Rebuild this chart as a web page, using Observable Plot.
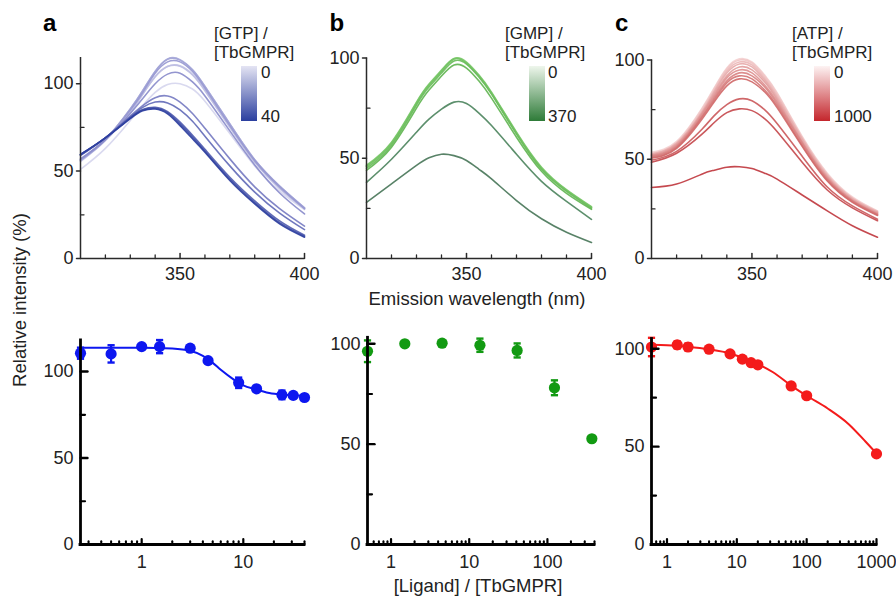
<!DOCTYPE html>
<html><head><meta charset="utf-8">
<script src="https://cdn.jsdelivr.net/npm/d3@7"></script>
<script src="https://cdn.jsdelivr.net/npm/@observablehq/plot@0.6"></script>
<style>
body{margin:0;background:#fff;}
#fig{position:relative;width:896px;height:597px;overflow:hidden;background:#fff;}
#fig svg{position:absolute;left:0;top:0;}
</style></head><body><div id="fig"></div><script>
// ---------- data ----------
const wavelengths = [310,320,330,335,340,345,350,355,360,370,380,390,400];

const gtpRatios = [0,0.25,0.5,1,1.5,3,4.5,9,13.5,24,31,40];
const gtpSpectra = [
  [51,63,79,87.5,95,99.5,100,97,90,71.5,53,38.5,28],
  [55.5,67.5,84,94,104,110,110.3,105.5,96.5,75.5,55.5,40.5,28.5],
  [56,67.5,84,94,104,109.8,110,105,96,75,55,40,28.5],
  [56,68,85.5,96,107,114.2,113.8,108,98.5,77,56.5,41.5,29],
  [56.5,68,85.5,96,107,114,113.5,108,98.5,77,56.5,41.5,29],
  [56.5,68,85,95,106,112.5,112.5,107,97.5,76,56,41,28.5],
  [57,68,83,91.5,100,105.5,106,101,93,73,53.5,37.5,25.5],
  [59,69,81.5,87.5,92,93,89.5,83,74.5,57,41,28.5,18.5],
  [59.5,69,81,86.5,89.5,89,85,78.5,70,53,38,26,16.5],
  [59,69,80.5,85.2,86.5,84,78,70.5,62.5,46.5,33,21.5,13.3],
  [59.5,69,80.5,85,86,83.5,77,69.5,61.5,45.5,32,20.5,12.7],
  [59.5,69,80,84.5,85.5,82.7,76,68.5,60.8,44.6,31.2,19.8,12.2]
];

const gmpRatios = [0,1.5,4.5,13.7,41,123,370];
const gmpSpectra = [
  [46,57.5,77.5,86.5,93.5,99.6,97.5,91,82.5,62.5,45,34,25.5],
  [46.5,58,78,87,94,99.8,98,91.5,83,63,45.5,34.3,25.8],
  [46,57.5,77.5,86.5,93.5,99.5,97.5,91,82.5,62.5,45,34,25.5],
  [45,56.5,76.5,85.5,92.5,98.5,97,90.5,82,62,44.5,33.5,25],
  [44,55.5,75,84,91,96.5,95,88.5,80,60.5,43.5,32.5,24.5],
  [38,49.5,63,69.5,74.5,78,77.3,72.5,66.3,52,38.5,28.5,19.5],
  [28,37.2,46.4,50.2,52,51.3,48.9,44.5,39.7,28.9,19.8,13.1,8]
];

const atpRatios = [0,0.6,1.4,2,4,8,12,16,20,60,100,1000];
const atpSpectra = [
  [53.5,59,75.5,86,96,100.6,99,92.5,83.5,61.5,43,31,24],
  [53,58.5,75,85.5,95.5,100,98.5,92,83,61,42.5,30.5,23.8],
  [52.5,58,74,84.5,94.5,99,97.5,91,82,60.5,42,30.3,23.5],
  [52.5,58,73.5,84,93.5,98,96.5,90,81,60,41.5,30,23.3],
  [52,57.5,73,83,92,96.5,95,89,80,59,41,29.5,23],
  [52,57,72.5,82,91,95,93.5,87.5,79,58.5,40.5,29.3,22.5],
  [51.5,56.5,71.5,81,89.5,93.5,92,86.5,78,58,40,29,22.3],
  [51,56,71,80,88.5,92,90.5,85,77,57,39.5,28.7,22],
  [50.5,55.5,70,79,87,90.5,89,84,76,56.5,39,28.3,21.7],
  [49.5,54,65,72,77.5,80.4,79.5,75,68,51.5,36,26.5,19.8],
  [48.5,53,62.5,68.5,73.5,75.4,74.5,70.5,64,48.5,34.5,25.5,19],
  [35.8,37.5,42.5,44.5,46,46.2,45.3,43,40,32,24,16.5,10.7]
];

const gtpX = [0.25,0.5,1,1.5,3,4.5,9,13.5,24,31,40];
const gtpY = [110.6,110.2,114.4,114.4,113.5,106.3,93.5,90,86.5,86.2,85];
const gtpErr = [3.2,5,1,3.8,1.5,1.2,3,1,2.5,1,0.5];
const gtpFitX = [0.25,0.5,1,2,3,4,5,6,8,10,13,18,25,40];
const gtpFitY = [113.8,113.8,113.8,113.3,112,109,105,101,95.5,92,89.8,87.6,86.6,86];

const gmpX = [0.5,1.5,4.5,13.7,41,123,370];
const gmpY = [96.3,100,100.3,99.3,96.7,78.1,52.7];
const gmpErr = [5.4,0.8,0.8,3.3,3.5,3.7,1];

const atpX = [0.6,1.4,2,4,8,12,16,20,60,100,1000];
const atpY = [100.9,102,100.9,99.8,97.4,94.7,92.9,91.8,81,76,46.3];
const atpErr = [4.7,1.8,1.8,1,1.2,1.2,1,1,1.5,1,0.5];
const atpFitX = [0.6,1,2,4,8,12,20,33,60,100,200,400,700,1000];
const atpFitY = [102,101.8,101,99.7,97.6,95.4,92.2,88,81.2,76,69.5,61.5,52.5,46.5];

const spectraMajor = [350,400];
const spectraMinor = [320,330,340,360,370,380,390];
const yMajor = [0,50,100];
const yMinor = [25,75];

// ---------- helpers ----------
const FONT = "'Liberation Sans', Arial, Helvetica, sans-serif";
const fig = document.getElementById("fig");
const tickShape = {draw(ctx, l) { ctx.moveTo(0, 0); ctx.lineTo(0, -l); }};
const capSymbol = {draw(ctx, size) { const w = Math.sqrt(size / Math.PI); ctx.moveTo(-w, 0); ctx.lineTo(w, 0); }};

function vticks(values, {x, y, len, rotate, stroke, sw}) {
  return Plot.vector(values, {x: x ?? (d => d), y: y ?? (d => d), length: len, rotate, anchor: "start", shape: tickShape, stroke, strokeWidth: sw});
}

function mount(frame, opts, marks) {
  const svg = Plot.plot({
    width: 896, height: 597,
    marginLeft: frame.x0, marginRight: 896 - frame.x1,
    marginTop: frame.yTop, marginBottom: 597 - frame.y0,
    style: {background: "transparent", overflow: "visible", fontFamily: FONT, fontSize: "18px", color: "#222"},
    ...opts,
    marks
  });
  fig.appendChild(svg);
}

function rowsOf(ratios, spectra) {
  return ratios.flatMap((r, i) => wavelengths.map((w, j) => ({wl: w, value: spectra[i][j], ratio: r, idx: i})));
}

function spectraPanel(frame, yMax, ratios, spectra, color) {
  const ax = "#2a2a2a";
  mount(frame, {
    x: {domain: [310, 400]},
    y: {domain: [0, yMax]},
    color
  }, [
    Plot.line(rowsOf(ratios, spectra), {x: "wl", y: "value", z: "idx", stroke: "idx", strokeWidth: 1.6, strokeOpacity: 0.92, curve: "natural"}),
    Plot.ruleY([0], {stroke: ax, strokeWidth: 1.5}),
    Plot.ruleX([310], {stroke: ax, strokeWidth: 1.5}),
    vticks(spectraMinor, {y: () => 0, len: 3.5, rotate: 0, stroke: ax, sw: 1.3}),
    vticks(spectraMajor, {y: () => 0, len: 5, rotate: 0, stroke: ax, sw: 1.5}),
    vticks(yMajor, {x: () => 310, len: 4, rotate: -90, stroke: ax, sw: 1.5}),
    vticks(yMinor, {x: () => 310, len: 3.5, rotate: 90, stroke: ax, sw: 1.3}),
    Plot.axisX(spectraMajor, {tickSize: 0, tickPadding: 9, label: null, tickFormat: d => String(d), fontSize: 18, fill: "#222"}),
    Plot.axisY(yMajor, {tickSize: 0, tickPadding: 7, label: null, tickFormat: d => String(d), fontSize: 18, fill: "#222"})
  ]);
}

function logTicks(lo, hi) {
  const major = [], minor = [];
  for (let e = -1; e <= 3; e++) {
    const p = Math.pow(10, e);
    if (p >= lo && p <= hi) major.push(p);
    for (let k = 2; k <= 9; k++) { const v = +(k * p).toPrecision(3); if (v > lo && v <= hi) minor.push(v); }
  }
  return {major, minor};
}

function dosePanel(frame, xDomain, yMax, xs, ys, errs, col, fitX, fitY) {
  const pts = xs.map((x, i) => ({x, y: ys[i], e: errs[i]}));
  const {major, minor} = logTicks(xDomain[0], xDomain[1]);
  const ax = "#000";
  const marks = [
    Plot.ruleX(pts, {x: "x", y1: d => d.y - d.e, y2: d => d.y + d.e, stroke: col, strokeWidth: 2.2}),
    Plot.dot(pts, {x: "x", y: d => d.y + d.e, symbol: capSymbol, r: 3.6, stroke: col, strokeWidth: 2.4, fill: "none"}),
    Plot.dot(pts, {x: "x", y: d => d.y - d.e, symbol: capSymbol, r: 3.6, stroke: col, strokeWidth: 2.4, fill: "none"})
  ];
  if (fitX) marks.push(Plot.line(fitX.map((x, i) => ({x, y: fitY[i]})), {x: "x", y: "y", stroke: col, strokeWidth: 2, curve: "monotone-x"}));
  marks.push(
    Plot.dot(pts, {x: "x", y: "y", r: 5.6, fill: col, stroke: "none"}),
    Plot.ruleY([0], {stroke: ax, strokeWidth: 2.8, strokeLinecap: "square"}),
    Plot.ruleX([xDomain[0]], {stroke: ax, strokeWidth: 2.8, strokeLinecap: "square"}),
    vticks(minor, {y: () => 0, len: 3.2, rotate: 0, stroke: ax, sw: 2}),
    vticks(major, {y: () => 0, len: 5.5, rotate: 0, stroke: ax, sw: 2.2}),
    vticks(yMajor.slice(1), {x: () => xDomain[0], len: 7, rotate: 90, stroke: ax, sw: 2.4}),
    vticks(yMinor, {x: () => xDomain[0], len: 4.5, rotate: 90, stroke: ax, sw: 2.2}),
    Plot.axisX(major, {tickSize: 0, tickPadding: 11, label: null, tickFormat: d => String(d), fontSize: 18, fill: "#222"}),
    Plot.axisY(yMajor, {tickSize: 0, tickPadding: 7, label: null, tickFormat: d => String(d), fontSize: 18, fill: "#222"})
  );
  mount(frame, {x: {type: "log", domain: xDomain}, y: {domain: [0, yMax]}}, marks);
}

// ---------- panels ----------
spectraPanel({x0: 80, x1: 304, y0: 258, yTop: 57}, 115, gtpRatios, gtpSpectra,
  {type: "linear", domain: [0, 6, 11], range: ["#d6d6ee", "#8a8ccb", "#2c3e9e"], interpolate: "rgb"});
spectraPanel({x0: 366, x1: 591, y0: 258, yTop: 57.5}, 100, gmpRatios, gmpSpectra,
  {type: "ordinal", domain: d3.range(7), range: ["#8ccf7c","#7fca6f","#74c465","#6bbd5c","#62b553","#4e8560","#4a775a"]});
spectraPanel({x0: 651, x1: 877, y0: 258, yTop: 59.5}, 100, atpRatios, atpSpectra,
  {type: "linear", domain: [0, 8, 11], range: ["#f4d2d2", "#d06a6a", "#c03a40"], interpolate: "rgb"});

dosePanel({x0: 80, x1: 304, y0: 544, yTop: 339.9}, [0.25, 40], 118, gtpX, gtpY, gtpErr, "#0d17f0", gtpFitX, gtpFitY);
dosePanel({x0: 367, x1: 594, y0: 544, yTop: 337.3}, [0.5, 400], 103, gmpX, gmpY, gmpErr, "#129a12");
dosePanel({x0: 651, x1: 876, y0: 544, yTop: 338.5}, [0.6, 1000], 105, atpX, atpY, atpErr, "#f41b1b", atpFitX, atpFitY);

// ---------- annotations ----------
const ann = d3.select(fig).append("svg").attr("width", 896).attr("height", 597)
  .attr("font-family", FONT).attr("fill", "#222");
const defs = ann.append("defs");
function grad(id, c0, c1) {
  const g = defs.append("linearGradient").attr("id", id).attr("x1", 0).attr("y1", 0).attr("x2", 0).attr("y2", 1);
  g.append("stop").attr("offset", "0%").attr("stop-color", c0);
  g.append("stop").attr("offset", "100%").attr("stop-color", c1);
}
grad("gA", "#e4e4f3", "#2b3f9f");
grad("gB", "#eef6ec", "#2e7b38");
grad("gC", "#fdf3f3", "#c4262c");

const legends = [
  {x: 214, bar: 241, lab: 261, title: "[GTP] /", hi: "40", g: "gA"},
  {x: 505, bar: 529, lab: 548, title: "[GMP] /", hi: "370", g: "gB"},
  {x: 792, bar: 814, lab: 834, title: "[ATP] /", hi: "1000", g: "gC"}
];
for (const L of legends) {
  ann.append("text").attr("x", L.x).attr("y", 39).attr("font-size", 17).text(L.title);
  ann.append("text").attr("x", L.x).attr("y", 57.5).attr("font-size", 17).text("[TbGMPR]");
  ann.append("rect").attr("x", L.bar).attr("y", 66).attr("width", 16).attr("height", 55).attr("fill", `url(#${L.g})`);
  ann.append("text").attr("x", L.lab).attr("y", 78).attr("font-size", 17).text("0");
  ann.append("text").attr("x", L.lab).attr("y", 121.5).attr("font-size", 17).text(L.hi);
}
for (const [t, x] of [["a", 43], ["b", 329.5], ["c", 615]]) {
  ann.append("text").attr("x", x).attr("y", 31).attr("font-size", 24).attr("font-weight", 700).attr("fill", "#000").text(t);
}
ann.append("text").attr("x", 477).attr("y", 305).attr("font-size", 18.5).attr("text-anchor", "middle").text("Emission wavelength (nm)");
ann.append("text").attr("x", 478).attr("y", 592).attr("font-size", 18.5).attr("text-anchor", "middle").text("[Ligand] / [TbGMPR]");
ann.append("text").attr("transform", "translate(26,300) rotate(-90)").attr("font-size", 18.5).attr("text-anchor", "middle").text("Relative intensity (%)");
</script></body></html>
